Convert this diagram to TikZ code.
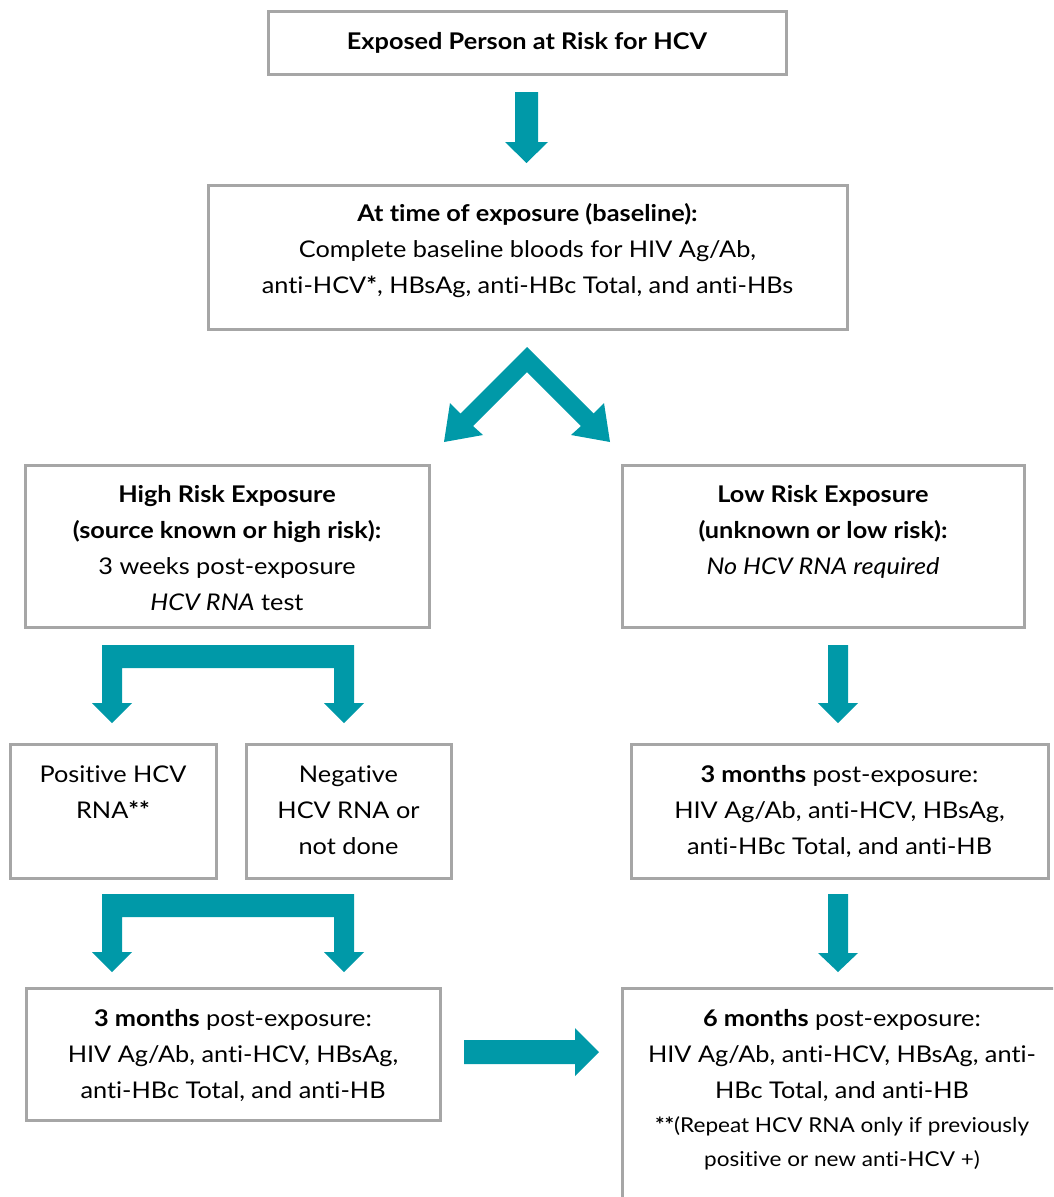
\documentclass[tikz,border=0pt]{standalone}
\usepackage{fontspec}
\setmainfont[FakeStretch=1.1, Ligatures=NoCommon]{Lato}
\definecolor{teal1}{RGB}{0,153,168}
\definecolor{boxgray}{RGB}{166,166,166}
\newcommand\tstrut{\rule{0pt}{24pt}}
\newcommand\sstrut{\rule{0pt}{20pt}}
\begin{document}
\begin{tikzpicture}[x=1pt,y=-1pt,
  box/.style={draw=boxgray, line width=3pt, inner sep=0pt, outer sep=0pt},
  txt/.style={anchor=north, align=center, inner sep=0pt, outer sep=0pt, font=\fontsize{23}{36}\selectfont, text=black},
  smalltxt/.style={anchor=north, align=center, inner sep=0pt, outer sep=0pt, font=\fontsize{20.5}{34.5}\selectfont, text=black},
  arr/.style={fill=teal1}]
\useasboundingbox (0,0) rectangle (1053,1197);
\clip (0,0) rectangle (1053,1197);

% boxes
\node[box, minimum width=518pt, minimum height=63pt] (b1) at (527,42.5) {};
\node[box, minimum width=639pt, minimum height=144pt] (b2) at (527.5,257) {};
\node[box, minimum width=403.5pt, minimum height=162pt] (b3) at (227.25,546) {};
\node[box, minimum width=402pt, minimum height=162pt] (b4) at (823,546) {};
\node[box, minimum width=206pt, minimum height=134pt] (b5) at (113,811) {};
\node[box, minimum width=205pt, minimum height=134pt] (b6) at (348.5,811) {};
\node[box, minimum width=417pt, minimum height=134pt] (b7) at (839.5,811) {};
\node[box, minimum width=414pt, minimum height=132pt] (b8) at (233,1054) {};
\node[box, minimum width=440pt, minimum height=240pt] (b9) at (842,1108) {};

% texts
\node[txt] (t1) at (527,25) {\tstrut\textbf{Exposed Person at Risk for HCV}};
\node[txt] (t2) at (527.5,197) {\tstrut\textbf{At time of exposure (baseline):}\\
  Complete baseline bloods for HIV Ag/Ab,\\
  anti-HCV\textbf{*}, HBsAg, anti-HBc Total, and anti-HBs};
\node[txt] (t3) at (227,478) {\tstrut\textbf{High Risk Exposure}\\
  \textbf{(source known or high risk):}\\
  3 weeks post-exposure\\
  \textit{HCV RNA} test};
\node[txt] (t4) at (823,478) {\tstrut\textbf{Low Risk Exposure}\\
  \textbf{(unknown or low risk):}\\
  \textit{No HCV RNA required}};
\node[txt] (t5) at (113,758) {\tstrut Positive HCV\\ RNA\textbf{**}};
\node[txt] (t6) at (348.5,758) {\tstrut Negative\\ HCV RNA or\\ not done};
\node[txt] (t7) at (839.5,758) {\tstrut\textbf{3 months} post-exposure:\\
  HIV Ag/Ab, anti-HCV, HBsAg,\\
  anti-HBc Total, and anti-HB};
\node[txt] (t8) at (233,1002) {\tstrut\textbf{3 months} post-exposure:\\
  HIV Ag/Ab, anti-HCV, HBsAg,\\
  anti-HBc Total, and anti-HB};
\node[txt] (t9) at (842,1002) {\tstrut\textbf{6 months} post-exposure:\\
  HIV Ag/Ab, anti-HCV, HBsAg, anti-\\
  HBc Total, and anti-HB};
\node[smalltxt] (t9b) at (842,1112) {\sstrut\textbf{**}(Repeat HCV RNA only if previously\\
  positive or new anti-HCV +)};

% arrows
\fill[arr] (515,92) -- (538,92) -- (538,142) -- (548,142) -- (526.5,163) -- (505,142) -- (515,142) -- cycle;
\fill[arr] (527,347) -- (593.5,413.5) -- (604,403) -- (610,442) -- (571,435) -- (581,426) -- (527,372)
  -- (473,426) -- (483,435) -- (444,442) -- (450,403) -- (460.5,413.5) -- cycle;
\fill[arr] (102,645) -- (354,645) -- (354,703) -- (364,703) -- (344,723) -- (324,703) -- (334,703)
  -- (334,668) -- (122,668) -- (122,703) -- (132,703) -- (112,723) -- (92,703) -- (102,703) -- cycle;
\fill[arr] (102,894) -- (354,894) -- (354,952) -- (364,952) -- (344,972) -- (324,952) -- (334,952)
  -- (334,917) -- (122,917) -- (122,952) -- (132,952) -- (112,972) -- (92,952) -- (102,952) -- cycle;
\fill[arr] (828,645) -- (848,645) -- (848,703) -- (858,703) -- (838,723) -- (818,703) -- (828,703) -- cycle;
\fill[arr] (828,894) -- (848,894) -- (848,953) -- (858,953) -- (838,972) -- (818,953) -- (828,953) -- cycle;
\fill[arr] (464,1040) -- (575,1040) -- (575,1028) -- (599,1052) -- (575,1076) -- (575,1064) -- (464,1064) -- cycle;
\end{tikzpicture}
\end{document}
